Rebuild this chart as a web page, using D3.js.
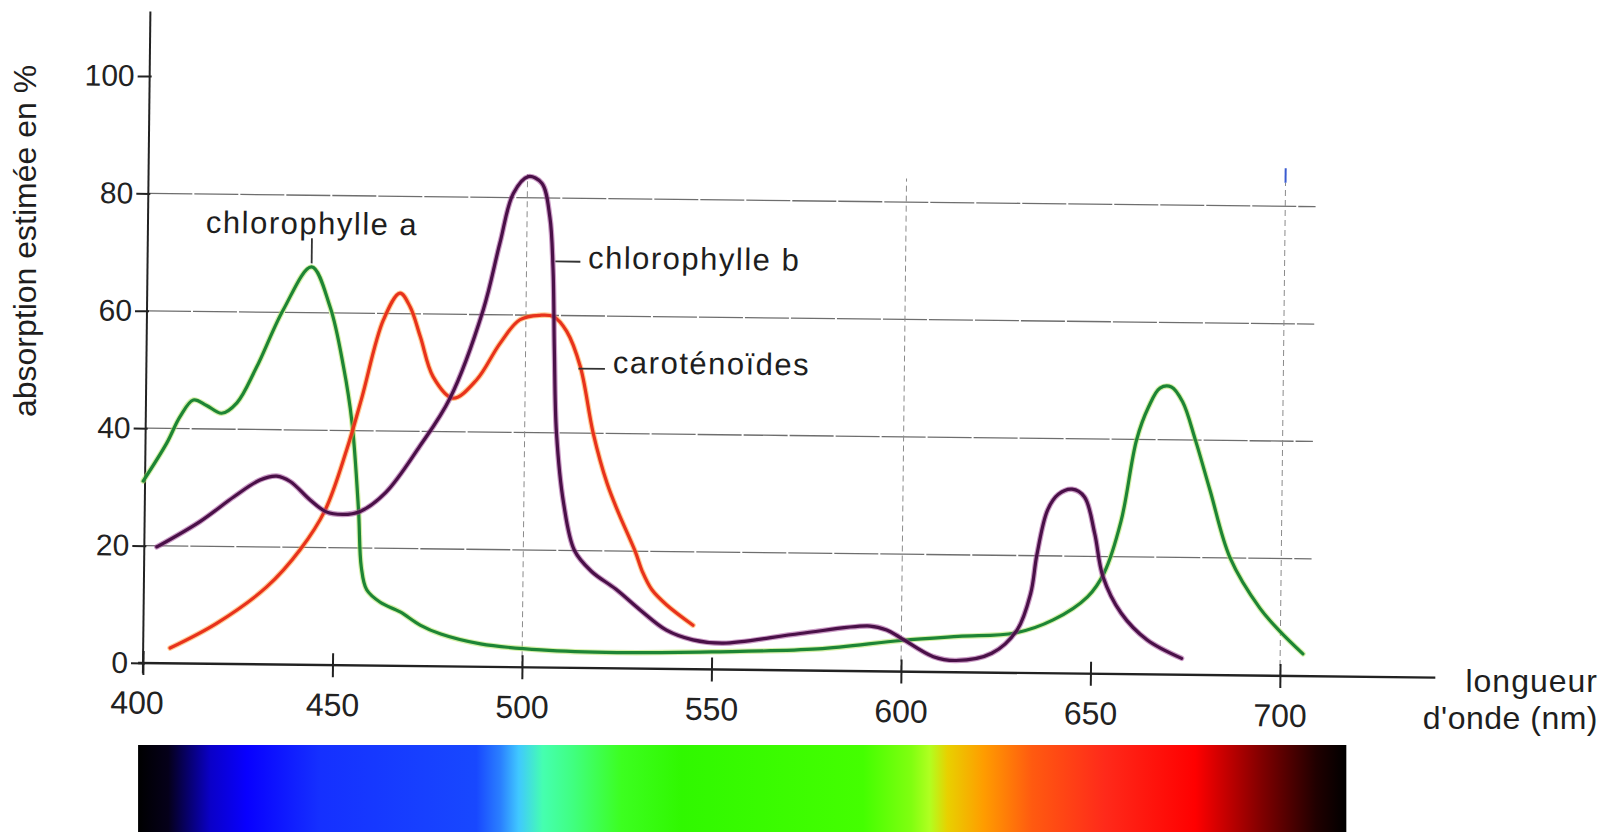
<!DOCTYPE html>
<html>
<head>
<meta charset="utf-8">
<script src="https://cdn.jsdelivr.net/npm/d3@7"></script>
<style>
  html, body { margin: 0; padding: 0; background: #fff; }
  svg { display: block; font-family: 'Liberation Sans', Arial, Helvetica, sans-serif; }
</style>
</head>
<body>
<div id="chart"></div>
<script>
// Ticks and grid
const wavelengthTicks = [400, 450, 500, 550, 600, 650, 700];
const absorptionTicks = [0, 20, 40, 60, 80, 100];
const gridValues = [20, 40, 60, 80];
const gridWavelengths = [500, 600, 700];

// Chlorophylle a (nm / % absorption)
const chlANm = [399.5, 405.6, 409, 412.5, 416, 420, 424, 429, 436, 443.3, 448.3, 452, 454.4, 456.4, 457.3, 458.8, 462.4, 467.7, 473, 478.5, 489, 505, 525, 550, 578, 600, 615, 630, 640, 649, 653.3, 657.6, 661.5, 664.5, 667.5, 670.5, 673.5, 677, 681, 686.5, 694.5, 700, 706];
const chlAAbs = [31, 37.5, 42, 44.9, 44, 42.7, 44.5, 50.5, 60.5, 67.8, 61, 50.9, 41.5, 26.5, 16.8, 12.9, 10.8, 9.2, 7.0, 5.5, 3.9, 3.0, 2.7, 3.0, 3.7, 5.3, 6.1, 6.8, 9.1, 13.1, 17.2, 26, 40, 45.5, 48.8, 49, 46.5, 40, 31.5, 20, 11.5, 7.5, 3.8];

// Chlorophylle b
const chlBNm = [403.3, 414.6, 423.5, 430.3, 434.7, 438.3, 443.6, 447.9, 452.3, 456.7, 463.5, 472.3, 480.2, 488.7, 492.9, 496.3, 500.2, 503.8, 506, 507, 507.6, 508.4, 510.5, 513.5, 518, 524.5, 531, 538, 545, 553, 573.3, 591.7, 596.1, 599.7, 608.5, 614.5, 623.9, 630.5, 634, 635.5, 638.2, 641, 644.6, 647.9, 650.7, 653, 657.9, 664.8, 674];
const chlBAbs = [19.8, 24.2, 28.5, 31.4, 32.1, 31.2, 28.1, 26.1, 25.7, 26.2, 29.5, 37.4, 45.7, 60.8, 72.2, 80.7, 83.6, 82.5, 76.8, 68, 54, 40, 28, 20, 16.5, 13.5, 10, 6.6, 5.0, 4.5, 6.3, 7.7, 7.05, 5.8, 2.6, 2.0, 3.3, 7.3, 13.6, 20.1, 27.8, 30.5, 31.4, 30.1, 23.9, 16.6, 10.4, 5.9, 2.8];

// Caroténoïdes
const caroNm = [407.1, 419.3, 432.4, 441.1, 447.6, 453.1, 456.9, 462.4, 466.7, 469.4, 472.2, 475.7, 481, 487.2, 493.2, 498.4, 503.7, 507.3, 510.8, 514.5, 518.1, 521.9, 525, 529.5, 531.5, 534, 538, 545];
const caroAbs = [2.6, 6.9, 13.2, 19.6, 26.4, 36.7, 45.5, 58.9, 63.5, 61.2, 56.1, 49.3, 45.7, 48.9, 55.1, 59.2, 60, 59.8, 57.3, 51.3, 40, 31.5, 26.5, 20, 16.5, 13.5, 10.9, 7.5];

// Spectrum band below the axis
const spectrumRange = [398.7, 717.5];
const spectrumOffsets = [0, 0.025, 0.06, 0.09, 0.15, 0.28, 0.3, 0.315, 0.335, 0.36, 0.4, 0.45, 0.6, 0.64, 0.655, 0.67, 0.7, 0.74, 0.8, 0.875, 0.93, 0.975, 1];
const spectrumColors = ['#000000', '#05001a', '#0a00c8', '#0800ff', '#1530ff', '#1848ff', '#2a80ff', '#40c8ff', '#45ffb0', '#40ff80', '#3cff20', '#30f800', '#44ff00', '#80ff10', '#b0ff20', '#e8d000', '#ff9c00', '#ff5a10', '#ff2a1a', '#ff0000', '#800000', '#200000', '#000000'];

// Set up margins (the scan is tilted a little)
const width = 1607;
const height = 832;
const leftMargin = 143;
const topMargin = 76;
const plotW = 1137;
const plotH = 587;
const tilt = 0.65;

const svg = d3
  .select('#chart')
  .append('svg')
  .attr('width', width)
  .attr('height', height);

const chart = svg
  .append('g')
  .attr('transform', `translate(${leftMargin},${topMargin}) rotate(${tilt}, 0, ${plotH})`);

const x = d3.scaleLinear().domain([400, 700]).range([0, plotW]);
const y = d3.scaleLinear().domain([0, 100]).range([plotH, 0]);

// Gridlines
chart
  .selectAll('.hgrid')
  .data(gridValues)
  .enter()
  .append('line')
  .attr('class', 'hgrid')
  .attr('x1', x(400))
  .attr('x2', x(708))
  .attr('y1', (d) => y(d))
  .attr('y2', (d) => y(d))
  .attr('stroke', '#6e6e6e')
  .attr('stroke-width', 1.3)
  .attr('stroke-dasharray', '44,2');

chart
  .selectAll('.vgrid')
  .data(gridWavelengths)
  .enter()
  .append('line')
  .attr('class', 'vgrid')
  .attr('x1', (d) => x(d))
  .attr('x2', (d) => x(d))
  .attr('y1', y(0))
  .attr('y2', y(84))
  .attr('stroke', '#8a8a8a')
  .attr('stroke-width', 1)
  .attr('stroke-dasharray', '6,4');

// little blue mark above the 700 line
chart
  .append('line')
  .attr('x1', x(700))
  .attr('x2', x(700))
  .attr('y1', y(84))
  .attr('y2', y(86.5))
  .attr('stroke', '#3a5bd0')
  .attr('stroke-width', 2);

// Axis lines
chart
  .append('line')
  .attr('x1', 0)
  .attr('x2', 0)
  .attr('y1', y(-1.8))
  .attr('y2', y(111))
  .attr('stroke', '#222')
  .attr('stroke-width', 2);

chart
  .append('line')
  .attr('x1', x(398.7))
  .attr('x2', x(741))
  .attr('y1', y(0))
  .attr('y2', y(0))
  .attr('stroke', '#222')
  .attr('stroke-width', 2.4);

// Axis ticks and labels
const yAxis = chart
  .append('g')
  .call(d3.axisLeft(y).tickValues(absorptionTicks).tickSize(12).tickPadding(3));
yAxis.select('.domain').remove();
yAxis.attr('font-size', 30).attr('font-family', null);
yAxis.selectAll('line').attr('stroke', '#222').attr('stroke-width', 2).attr('x1', 2);
yAxis.selectAll('text').attr('fill', '#222');

const xAxis = chart
  .append('g')
  .attr('transform', `translate(0,${plotH})`)
  .call(d3.axisBottom(x).tickValues(wavelengthTicks).tickSize(12).tickPadding(16));
xAxis.select('.domain').remove();
xAxis.attr('font-size', 32).attr('font-family', null);
xAxis.selectAll('line').attr('stroke', '#222').attr('stroke-width', 2).attr('y1', -12);
xAxis
  .selectAll('text')
  .attr('fill', '#222')
  .attr('dx', (d) => (d === 400 ? -6 : 0));

// Curves
const series = [
  { nm: chlANm, abs: chlAAbs },
  { nm: caroNm, abs: caroAbs },
  { nm: chlBNm, abs: chlBAbs },
];
const haloColors = ['#b5e463', '#ffa040', '#a04a98'];
const coreColors = ['#1d8535', '#e8321c', '#4a1048'];

const line = d3
  .line()
  .x((d) => x(d[0]))
  .y((d) => y(d[1]))
  .curve(d3.curveCatmullRom.alpha(0.5));

series.forEach((s, i) => {
  const pts = d3.zip(s.nm, s.abs);
  chart
    .append('path')
    .attr('d', line(pts))
    .attr('fill', 'none')
    .attr('stroke', haloColors[i])
    .attr('stroke-opacity', 0.55)
    .attr('stroke-width', 5.5)
    .attr('stroke-linecap', 'round');
  chart
    .append('path')
    .attr('d', line(pts))
    .attr('fill', 'none')
    .attr('stroke', coreColors[i])
    .attr('stroke-width', 3.2)
    .attr('stroke-linecap', 'round')
    .attr('stroke-linejoin', 'round');
});

// Callout lines
const callouts = [
  [[443.3, 68.4], [443.3, 72.7]],
  [[507.6, 69.2], [514.2, 69.2]],
  [[514, 51], [521, 51]],
];
chart
  .selectAll('.callout')
  .data(callouts)
  .enter()
  .append('line')
  .attr('class', 'callout')
  .attr('x1', (d) => x(d[0][0]))
  .attr('y1', (d) => y(d[0][1]))
  .attr('x2', (d) => x(d[1][0]))
  .attr('y2', (d) => y(d[1][1]))
  .attr('stroke', '#333')
  .attr('stroke-width', 1.8);

// Curve labels
const labelStyle = (sel) =>
  sel
    .style('font-size', '31px')
    .style('letter-spacing', '1.5px')
    .attr('fill', '#1e1e1e');

chart
  .append('text')
  .attr('x', x(443.3))
  .attr('y', y(73.4))
  .attr('text-anchor', 'middle')
  .call(labelStyle)
  .text('chlorophylle a');

chart
  .append('text')
  .attr('x', x(516.2))
  .attr('y', y(68.1))
  .call(labelStyle)
  .text('chlorophylle b');

chart
  .append('text')
  .attr('x', x(523.1))
  .attr('y', y(50.3))
  .call(labelStyle)
  .text('caroténoïdes');

// Axis titles
svg
  .append('text')
  .attr('transform', 'translate(36,241) rotate(-90)')
  .attr('text-anchor', 'middle')
  .style('font-size', '32px')
  .attr('fill', '#1e1e1e')
  .text('absorption estimée en %');

svg
  .append('text')
  .attr('x', 1598)
  .attr('y', 692)
  .attr('text-anchor', 'end')
  .style('font-size', '32px')
  .style('letter-spacing', '1px')
  .attr('fill', '#1e1e1e')
  .text('longueur');

svg
  .append('text')
  .attr('x', 1598)
  .attr('y', 729)
  .attr('text-anchor', 'end')
  .style('font-size', '32px')
  .style('letter-spacing', '0.5px')
  .attr('fill', '#1e1e1e')
  .text("d'onde (nm)");

// Spectrum band
const grad = svg
  .append('defs')
  .append('linearGradient')
  .attr('id', 'spectrum')
  .attr('x1', '0%')
  .attr('x2', '100%');
grad
  .selectAll('stop')
  .data(spectrumOffsets)
  .enter()
  .append('stop')
  .attr('offset', (d) => d)
  .attr('stop-color', (d, i) => spectrumColors[i]);

svg
  .append('rect')
  .attr('x', leftMargin + x(spectrumRange[0]))
  .attr('y', 745)
  .attr('width', x(spectrumRange[1]) - x(spectrumRange[0]))
  .attr('height', height - 745)
  .attr('fill', 'url(#spectrum)');
</script>
</body>
</html>
